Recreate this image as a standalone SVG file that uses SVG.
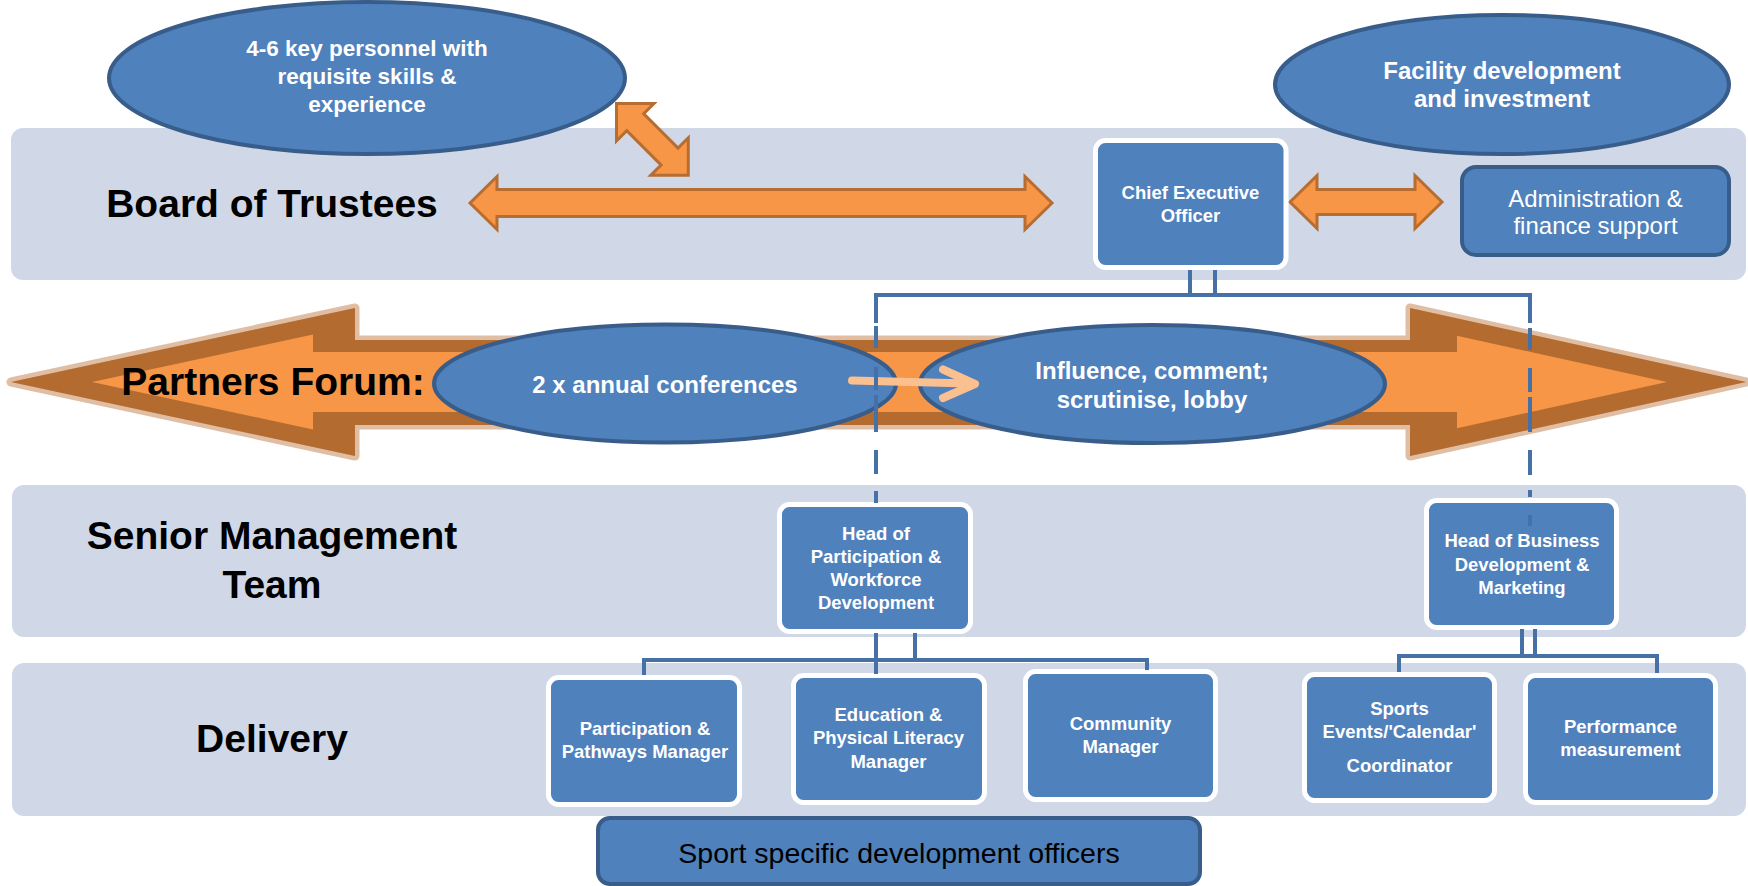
<svg xmlns="http://www.w3.org/2000/svg" width="1748" height="886" viewBox="0 0 1748 886">
<defs>
<style>
.band{fill:#D0D8E8}
.ell{fill:#4F81BD;stroke:#385D8A;stroke-width:4}
.box{fill:#4F81BD;stroke:#FFFFFF;stroke-width:5}
.dbox{fill:#4F81BD;stroke:#385D8A;stroke-width:4}
.oarr{fill:#F79646;stroke:#B66D31;stroke-width:3;stroke-linejoin:miter}
.conn{fill:none;stroke:#4671A6;stroke-width:4}
text{font-family:"Liberation Sans",Arial,sans-serif;text-anchor:middle}
.lbl{font-weight:bold;font-size:39px;fill:#000}
.et{font-weight:bold;font-size:24px;fill:#fff}
.bt{font-weight:bold;font-size:18.5px;fill:#fff}
.rt{font-size:24px;fill:#fff}
.st{font-size:28.5px;fill:#000}
</style>
</defs>
<rect width="1748" height="886" fill="#fff"/>
<g id="bands">
<rect class="band" x="11" y="128" width="1735" height="152" rx="12"/>
<rect class="band" x="12" y="485" width="1734" height="152" rx="12"/>
<rect class="band" x="12" y="663" width="1734" height="153" rx="12"/>
</g>
<g id="partners-arrow">
<polygon points="11,382 355,308 355,340 1410,340 1410,308 1746,382 1410,456 1410,425 355,425 355,456" fill="#B46B30" stroke="#D9B394" stroke-width="9" stroke-linejoin="round" stroke-opacity="0.85"/>
<polygon points="11,382 355,308 355,340 1410,340 1410,308 1746,382 1410,456 1410,425 355,425 355,456" fill="#B46B30"/>
<polygon points="92,382 313,334.5 313,352 1457,352 1457,335.7 1667,382 1457,428.3 1457,412 313,412 313,429.5" fill="#F79646"/>
</g>
<g id="label-board"><text class="lbl" x="272" y="217">Board of Trustees</text></g>
<g id="label-partners"><text class="lbl" x="273" y="395">Partners Forum:</text></g>
<g id="label-smt"><text class="lbl" x="272" y="549">Senior Management</text><text class="lbl" x="272" y="598">Team</text></g>
<g id="label-delivery"><text class="lbl" x="272" y="752">Delivery</text></g>
<g id="ellipse-conferences">
<ellipse class="ell" cx="665" cy="383.5" rx="231" ry="59"/>
<text class="et" x="665" y="393">2 x annual conferences</text>
</g>
<g id="ellipse-influence">
<ellipse class="ell" cx="1152.5" cy="384" rx="232.5" ry="59"/>
<text class="et" x="1152" y="379">Influence, comment;</text>
<text class="et" x="1152" y="408">scrutinise, lobby</text>
</g>
<g id="peach-arrow" fill="none" stroke="#FAC090" stroke-width="8" stroke-linecap="round" stroke-linejoin="round">
<line x1="852" y1="380.5" x2="970" y2="383.5"/>
<polyline points="943,369.5 975,384 943,398"/>
</g>
<g id="board-arrow">
<polygon class="oarr" points="470,203 497,176.5 497,189.5 1025,189.5 1025,176.5 1052,203 1025,229.5 1025,216.5 497,216.5 497,229.5"/>
</g>
<g id="diag-arrow">
<polygon class="oarr" transform="translate(616.5,103.5) rotate(45)" points="0,0 26.5,-26.5 26.5,-12 75,-12 75,-26.5 101.5,0 75,26.5 75,12 26.5,12 26.5,26.5"/>
</g>
<g id="ellipse-personnel">
<ellipse class="ell" cx="367" cy="78" rx="258" ry="76"/>
<text class="et" x="367" y="56" style="font-size:22.5px">4-6 key personnel with</text>
<text class="et" x="367" y="84" style="font-size:22.5px">requisite skills &amp;</text>
<text class="et" x="367" y="112" style="font-size:22.5px">experience</text>
</g>
<g id="ellipse-facility">
<ellipse class="ell" cx="1502" cy="84.5" rx="227" ry="69.5"/>
<text class="et" x="1502" y="79">Facility development</text>
<text class="et" x="1502" y="107">and investment</text>
</g>
<g id="ceo-admin-arrow">
<polygon class="oarr" points="1290,202 1317,175.5 1317,189.5 1415,189.5 1415,175.5 1442,202 1415,228.5 1415,214.5 1317,214.5 1317,228.5"/>
</g>
<g id="ceo">
<rect class="box" x="1095.5" y="140.5" width="190.5" height="127" rx="10"/>
<text class="bt" x="1190.5" y="198.5">Chief Executive</text>
<text class="bt" x="1190.5" y="221.5">Officer</text>
</g>
<g id="admin">
<rect class="dbox" x="1462" y="167" width="267" height="88" rx="14"/>
<text class="rt" x="1595.5" y="206.5">Administration &amp;</text>
<text class="rt" x="1595.5" y="234">finance support</text>
</g>
<g id="head-participation">
<rect class="box" x="779.5" y="504.5" width="191" height="127" rx="10"/>
<text class="bt" x="876" y="539.5">Head of</text>
<text class="bt" x="876" y="562.8">Participation &amp;</text>
<text class="bt" x="876" y="586">Workforce</text>
<text class="bt" x="876" y="609.3">Development</text>
</g>
<g id="head-business">
<rect class="box" x="1426.5" y="500.5" width="190" height="127" rx="10"/>
<text class="bt" x="1522" y="547.3">Head of Business</text>
<text class="bt" x="1522" y="570.5">Development &amp;</text>
<text class="bt" x="1522" y="594">Marketing</text>
</g>
<g id="participation-pathways">
<rect class="box" x="548.5" y="677.5" width="191" height="127" rx="10"/>
<text class="bt" x="645" y="735">Participation &amp;</text>
<text class="bt" x="645" y="758.3">Pathways Manager</text>
</g>
<g id="education">
<rect class="box" x="793.5" y="675.5" width="191" height="127" rx="10"/>
<text class="bt" x="888.5" y="721">Education &amp;</text>
<text class="bt" x="888.5" y="744.3">Physical Literacy</text>
<text class="bt" x="888.5" y="767.5">Manager</text>
</g>
<g id="community">
<rect class="box" x="1025.5" y="671.5" width="190" height="128" rx="10"/>
<text class="bt" x="1120.5" y="730">Community</text>
<text class="bt" x="1120.5" y="753.3">Manager</text>
</g>
<g id="sports-events">
<rect class="box" x="1304.5" y="674.5" width="190" height="126" rx="10"/>
<text class="bt" x="1399.5" y="715">Sports</text>
<text class="bt" x="1399.5" y="738.3">Events/'Calendar'</text>
<text class="bt" x="1399.5" y="771.7">Coordinator</text>
</g>
<g id="performance">
<rect class="box" x="1525.5" y="675.5" width="190" height="127" rx="10"/>
<text class="bt" x="1620.5" y="732.7">Performance</text>
<text class="bt" x="1620.5" y="756">measurement</text>
</g>
<g id="sport-officers">
<rect class="dbox" x="598" y="818" width="602" height="66" rx="12"/>
<text class="st" x="899" y="863">Sport specific development officers</text>
</g>
<g id="connectors" class="conn">
<path d="M1190,270 V295 M1215,270 V295"/>
<path d="M876,323 V295 H1530 V323"/>
<path d="M876,326 V348 M876,367 V390 M876,395 V432 M876,450 V474 M876,491 V503"/>
<path d="M1530,328 V350 M1530,368 V392 M1530,397 V432 M1530,450 V475 M1530,490 V497 M1530,515 V526"/>
<path d="M876,633 V660 M915,633 V660 M644,675 V660 H1147 V670 M876,660 V674"/>
<path d="M1522,629 V656 M1535,629 V656 M1399,672 V656 H1657 V673"/>
</g>
</svg>
